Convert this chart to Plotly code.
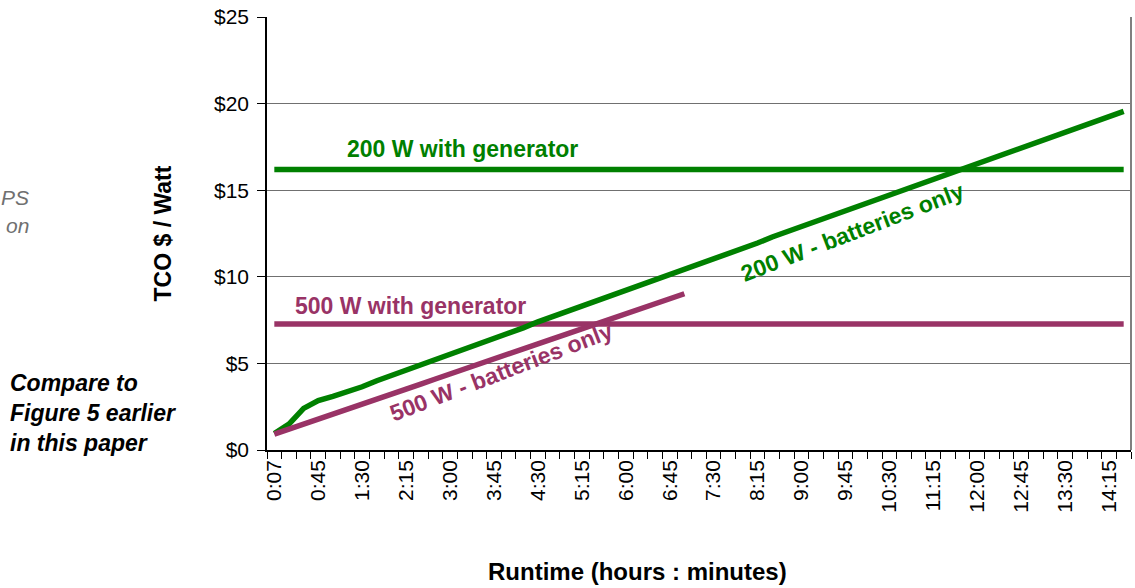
import plotly.graph_objects as go

# ---- data ----
runtime_labels = ["0:07"] + [f"{m // 60}:{m % 60:02d}" for m in range(15, 871, 15)]

tco_200w_batteries = [
    0.95, 1.50, 2.40, 2.85, 3.10, 3.35, 3.65, 4.00, 4.30, 4.60,
    4.95, 5.25, 5.55, 5.85, 6.15, 6.45, 6.75, 7.05, 7.40, 7.70,
    8.00, 8.30, 8.60, 8.90, 9.20, 9.55, 9.85, 10.15, 10.45, 10.75,
    11.05, 11.35, 11.65, 11.95, 12.30, 12.60, 12.90, 13.20, 13.50, 13.80,
    14.10, 14.40, 14.70, 15.00, 15.30, 15.60, 15.90, 16.25, 16.55, 16.85,
    17.15, 17.45, 17.75, 18.05, 18.35, 18.65, 18.95, 19.25, 19.55,
]

tco_500w_batteries = [
    0.92, 1.20, 1.50, 1.78, 2.08, 2.36, 2.65, 2.95, 3.22, 3.50,
    3.80, 4.10, 4.40, 4.68, 4.98, 5.27, 5.56, 5.85, 6.14, 6.42,
    6.70, 7.00, 7.28, 7.56, 7.85, 8.14, 8.43, 8.72, 9.02,
]

tco_200w_generator = 16.2
tco_500w_generator = 7.27

y_tick_values = [0, 5, 10, 15, 20, 25]
y_tick_labels = ["$0", "$5", "$10", "$15", "$20", "$25"]

# ---- style ----
GREEN = "#008000"
PLUM = "#993366"
FONT = "Liberation Sans, Arial, sans-serif"

W, H = 1135, 588
ML, MR, MT, MB = 267, 4, 17, 138
pw, ph = W - ML - MR, H - MT - MB


def px_x(px):
    return (px - ML) / pw


def px_y(py):
    return 1 - (py - MT) / ph


n = len(runtime_labels)
xs = list(range(n))
LW = 5.5

fig = go.Figure()
fig.add_trace(go.Scatter(x=[xs[0], xs[-1]], y=[tco_200w_generator] * 2, mode="lines",
                         line=dict(color=GREEN, width=LW), name="200 W with generator"))
fig.add_trace(go.Scatter(x=[xs[0], xs[-1]], y=[tco_500w_generator] * 2, mode="lines",
                         line=dict(color=PLUM, width=LW), name="500 W with generator"))
fig.add_trace(go.Scatter(x=xs[:len(tco_200w_batteries)], y=tco_200w_batteries, mode="lines",
                         line=dict(color=GREEN, width=LW), name="200 W - batteries only"))
fig.add_trace(go.Scatter(x=xs[:len(tco_500w_batteries)], y=tco_500w_batteries, mode="lines",
                         line=dict(color=PLUM, width=LW), name="500 W - batteries only"))

fig.update_layout(
    width=W, height=H,
    margin=dict(l=ML, r=MR, t=MT, b=MB),
    paper_bgcolor="white", plot_bgcolor="white",
    showlegend=False,
    font=dict(family=FONT, color="black"),
)

fig.update_xaxes(
    range=[-0.5, n - 0.5],
    tickmode="array",
    tickvals=xs[::3],
    ticktext=runtime_labels[::3],
    tickangle=-90,
    ticks="",
    tickfont=dict(size=21, family=FONT, color="black"),
    minor=dict(ticks="outside", tick0=-0.5, dtick=1, ticklen=7, tickcolor="black", tickwidth=1.2, showgrid=False),
    showline=True, linecolor="black", linewidth=1.5,
    showgrid=False, zeroline=False,
    automargin=False,
)

fig.update_yaxes(
    range=[0, 25],
    tickmode="array", tickvals=y_tick_values, ticktext=y_tick_labels,
    ticks="outside", ticklen=8, tickcolor="black", tickwidth=1.2,
    tickfont=dict(size=21, family=FONT, color="black"),
    ticklabelstandoff=4,
    showline=True, linecolor="black", linewidth=1.5,
    showgrid=True, gridcolor="#707070", gridwidth=1.2,
    zeroline=False,
    title=dict(text="<b>TCO $ / Watt</b>", font=dict(size=23, family=FONT), standoff=36),
    automargin=False,
)

# right border of plot area
fig.add_shape(type="line", xref="paper", yref="paper", x0=1, x1=1, y0=0, y1=1,
              line=dict(color="#808080", width=2))

# x axis title (offset left of plot centre, as in the original)
fig.add_annotation(x=px_x(637), y=px_y(571), xref="paper", yref="paper",
                   text="<b>Runtime (hours : minutes)</b>", showarrow=False,
                   xanchor="center", yanchor="middle",
                   font=dict(family=FONT, size=24, color="black"))

# series labels
fig.add_annotation(x=4.8, y=17.4, xref="x", yref="y", text="<b>200 W with generator</b>",
                   showarrow=False, xanchor="left", yanchor="middle",
                   font=dict(family=FONT, size=23, color=GREEN))
fig.add_annotation(x=1.28, y=8.31, xref="x", yref="y", text="<b>500 W with generator</b>",
                   showarrow=False, xanchor="left", yanchor="middle",
                   font=dict(family=FONT, size=23, color=PLUM))
fig.add_annotation(x=39.5, y=12.6, xref="x", yref="y", text="<b>200 W - batteries only</b>",
                   showarrow=False, textangle=-21,
                   font=dict(family=FONT, size=23, color=GREEN))
fig.add_annotation(x=15.5, y=4.5, xref="x", yref="y", text="<b>500 W - batteries only</b>",
                   showarrow=False, textangle=-21,
                   font=dict(family=FONT, size=23, color=PLUM))

# side text
fig.add_annotation(x=px_x(31), y=px_y(197), xref="paper", yref="paper", text="<i>PS</i>",
                   showarrow=False, xanchor="right", yanchor="middle",
                   font=dict(family=FONT, size=21, color="#707070"))
fig.add_annotation(x=px_x(31), y=px_y(226), xref="paper", yref="paper", text="<i>on</i>",
                   showarrow=False, xanchor="right", yanchor="middle",
                   font=dict(family=FONT, size=21, color="#707070"))
fig.add_annotation(x=px_x(8), y=px_y(413), xref="paper", yref="paper",
                   text="<b><i>Compare to<br>Figure 5 earlier<br>in this paper</i></b>",
                   showarrow=False, xanchor="left", yanchor="middle", align="left",
                   font=dict(family=FONT, size=23, color="black"))

fig.write_html("out.html", config={"displayModeBar": False},
               post_script="document.body.style.margin='0';")
